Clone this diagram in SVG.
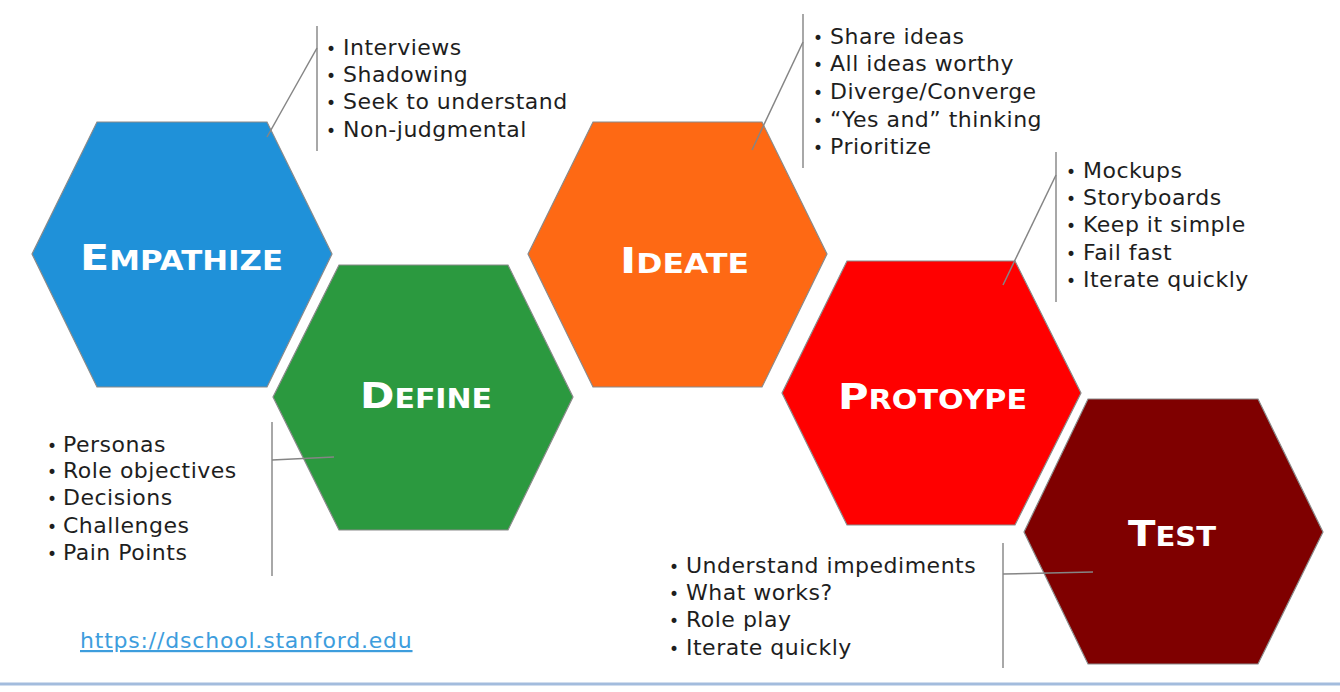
<svg xmlns="http://www.w3.org/2000/svg" width="1340" height="692" viewBox="0 0 1340 692">
<style>
.hex{stroke:#8a8a8a;stroke-width:1.2}
.lbl{font-family:"DejaVu Sans","Verdana",sans-serif;font-weight:bold;fill:#ffffff;font-size:26px}
.big{font-size:36px}
.li{font-family:"DejaVu Sans","Verdana",sans-serif;font-size:22px;fill:#1e1e1e;letter-spacing:0.5px}
.bul{font-size:17px;letter-spacing:0}
.bar{stroke:#a8a8a8;stroke-width:2;fill:none}
.lead{stroke:#858585;stroke-width:1.5;fill:none}
.link{font-family:"DejaVu Sans","Verdana",sans-serif;font-size:22px;fill:#3d9ddd;letter-spacing:0.8px;text-decoration:underline}
</style>
<rect width="1340" height="692" fill="#ffffff"/>

<g id="empathize">
<polygon class="hex" fill="#1f91d9" points="32,254 97,122 267,122 332,254 267,387 97,387"/>
<text class="lbl" x="80" y="270" textLength="203" lengthAdjust="spacingAndGlyphs"><tspan class="big">E</tspan>MPATHIZE</text>
</g>

<g id="define">
<polygon class="hex" fill="#2b993f" points="273,397 339,265 508,265 573,397 508,530 339,530"/>
<text class="lbl" x="360" y="408" textLength="132" lengthAdjust="spacingAndGlyphs"><tspan class="big">D</tspan>EFINE</text>
</g>

<g id="ideate">
<polygon class="hex" fill="#fe6914" points="528,254 593,122 762,122 827,254 762,387 593,387"/>
<text class="lbl" x="620" y="273" textLength="129" lengthAdjust="spacingAndGlyphs"><tspan class="big">I</tspan>DEATE</text>
</g>

<g id="prototype">
<polygon class="hex" fill="#ff0000" points="782,393 847,261 1015,261 1081,393 1015,525 847,525"/>
<text class="lbl" x="838" y="409" textLength="189" lengthAdjust="spacingAndGlyphs"><tspan class="big">P</tspan>ROTOYPE</text>
</g>

<g id="test">
<polygon class="hex" fill="#7f0000" points="1024,532 1088,399 1258,399 1323,532 1258,664 1088,664"/>
<text class="lbl" x="1128" y="546" textLength="88" lengthAdjust="spacingAndGlyphs"><tspan class="big">T</tspan>EST</text>
</g>

<g id="connectors">
<line class="bar" x1="317" y1="26" x2="317" y2="151"/>
<line class="lead" x1="317" y1="48" x2="267" y2="137"/>
<line class="bar" x1="272" y1="422" x2="272" y2="576"/>
<line class="lead" x1="272" y1="460" x2="334" y2="457"/>
<line class="bar" x1="803" y1="14" x2="803" y2="168"/>
<line class="lead" x1="803" y1="42" x2="752" y2="150"/>
<line class="bar" x1="1056" y1="152" x2="1056" y2="302"/>
<line class="lead" x1="1056" y1="175" x2="1003" y2="285"/>
<line class="bar" x1="1003" y1="543" x2="1003" y2="668"/>
<line class="lead" x1="1003" y1="574" x2="1093" y2="572"/>
</g>

<g id="empathize-notes">
<text class="li" y="55"><tspan class="bul" x="326">•</tspan><tspan x="343">Interviews</tspan></text>
<text class="li" y="82"><tspan class="bul" x="326">•</tspan><tspan x="343">Shadowing</tspan></text>
<text class="li" y="109"><tspan class="bul" x="326">•</tspan><tspan x="343">Seek to understand</tspan></text>
<text class="li" y="137"><tspan class="bul" x="326">•</tspan><tspan x="343">Non-judgmental</tspan></text>
</g>

<g id="define-notes">
<text class="li" y="452"><tspan class="bul" x="47">•</tspan><tspan x="63">Personas</tspan></text>
<text class="li" y="478"><tspan class="bul" x="47">•</tspan><tspan x="63">Role objectives</tspan></text>
<text class="li" y="505"><tspan class="bul" x="47">•</tspan><tspan x="63">Decisions</tspan></text>
<text class="li" y="533"><tspan class="bul" x="47">•</tspan><tspan x="63">Challenges</tspan></text>
<text class="li" y="560"><tspan class="bul" x="47">•</tspan><tspan x="63">Pain Points</tspan></text>
</g>

<g id="ideate-notes">
<text class="li" y="44"><tspan class="bul" x="813">•</tspan><tspan x="830">Share ideas</tspan></text>
<text class="li" y="71"><tspan class="bul" x="813">•</tspan><tspan x="830">All ideas worthy</tspan></text>
<text class="li" y="99"><tspan class="bul" x="813">•</tspan><tspan x="830">Diverge/Converge</tspan></text>
<text class="li" y="127"><tspan class="bul" x="813">•</tspan><tspan x="830">“Yes and” thinking</tspan></text>
<text class="li" y="154"><tspan class="bul" x="813">•</tspan><tspan x="830">Prioritize</tspan></text>
</g>

<g id="prototype-notes">
<text class="li" y="178"><tspan class="bul" x="1066">•</tspan><tspan x="1083">Mockups</tspan></text>
<text class="li" y="205"><tspan class="bul" x="1066">•</tspan><tspan x="1083">Storyboards</tspan></text>
<text class="li" y="232"><tspan class="bul" x="1066">•</tspan><tspan x="1083">Keep it simple</tspan></text>
<text class="li" y="260"><tspan class="bul" x="1066">•</tspan><tspan x="1083">Fail fast</tspan></text>
<text class="li" y="287"><tspan class="bul" x="1066">•</tspan><tspan x="1083">Iterate quickly</tspan></text>
</g>

<g id="test-notes">
<text class="li" y="573"><tspan class="bul" x="669">•</tspan><tspan x="686">Understand impediments</tspan></text>
<text class="li" y="600"><tspan class="bul" x="669">•</tspan><tspan x="686">What works?</tspan></text>
<text class="li" y="627"><tspan class="bul" x="669">•</tspan><tspan x="686">Role play</tspan></text>
<text class="li" y="655"><tspan class="bul" x="669">•</tspan><tspan x="686">Iterate quickly</tspan></text>
</g>

<text id="link" class="link" x="80" y="648">https://dschool.stanford.edu</text>
<line x1="0" y1="684" x2="1340" y2="684" stroke="#a3bcdd" stroke-width="3"/>
</svg>
